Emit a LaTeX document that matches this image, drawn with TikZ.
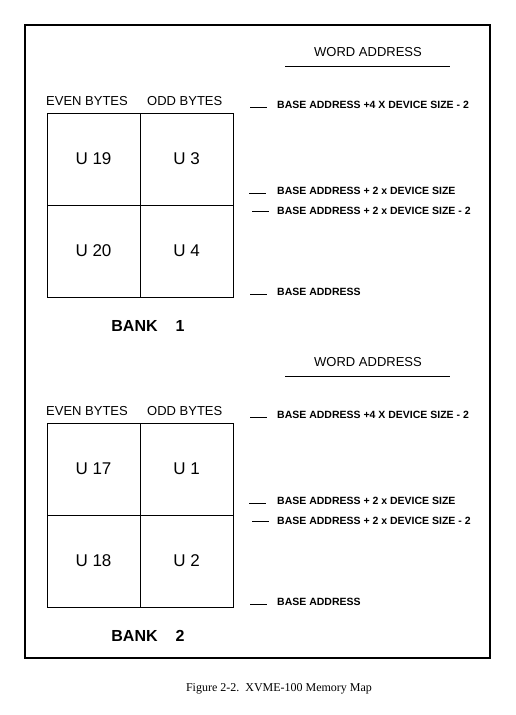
\documentclass[tikz,border=0pt]{standalone}
\usepackage{fontspec}
\setmainfont{Liberation Serif}
\setsansfont{Liberation Sans}
\usetikzlibrary{positioning}

\tikzset{
  head/.style={font=\sffamily\fontsize{13}{13}\selectfont,inner sep=0pt},
  chip/.style={draw,line width=0.9pt,minimum width=93pt,minimum height=92pt,outer sep=0pt,
    font=\sffamily\fontsize{17}{17}\selectfont},
  addr/.style={font=\sffamily\bfseries\fontsize{10.5}{10.5}\selectfont,anchor=base west,inner sep=0pt},
  bankname/.style={font=\sffamily\bfseries\fontsize{16}{16}\selectfont,inner sep=0pt},
  tick/.style={line width=0.8pt},
}

\begin{document}
\begin{tikzpicture}[x=1pt,y=-1pt]
\useasboundingbox (0,0) rectangle (515,715);
\draw[line width=1.1pt] (25,25) rectangle (490,658);
% the two banks, 310 apart
\foreach \b/\dy/\ua/\ub/\uc/\ud in {1/0/19/3/20/4,2/310/17/1/18/2} {
 \node[head] (word\b) at (368,52+\dy) {WORD ADDRESS};
 \draw[line width=0.9pt] (285,66+\dy) -- (450,66+\dy);
 \node[head,anchor=base west] (even\b) at (46,105+\dy) {EVEN BYTES};
 \node[head,anchor=base west] (odd\b) at (147,105+\dy) {ODD BYTES};
 \node[chip] (ca\b) at (93.5,159+\dy) {U \ua};
 \node[chip,right=0pt of ca\b] (cb\b) {U \ub};
 \node[chip,below=0pt of ca\b] (cc\b) {U \uc};
 \node[chip,right=0pt of cc\b] (cd\b) {U \ud};
 \node[bankname] (bank\b) at (148,326+\dy) {BANK\hspace{18pt}\b};
 % word addresses
 \node[addr] (top\b) at (277,108+\dy) {BASE ADDRESS +4 X DEVICE SIZE - 2};
 \node[addr] (hi\b) at (277,194+\dy) {BASE ADDRESS + 2 x DEVICE SIZE};
 \node[addr] (lo\b) at (277,214+\dy) {BASE ADDRESS + 2 x DEVICE SIZE - 2};
 \node[addr] (base\b) at (277,295+\dy) {BASE ADDRESS};
 \draw[tick] ([xshift=-27pt,yshift=1pt]top\b.base west) -- ([xshift=-10pt,yshift=1pt]top\b.base west);
 \draw[tick] ([xshift=-28pt,yshift=1pt]hi\b.base west) -- ([xshift=-11pt,yshift=1pt]hi\b.base west);
 \draw[tick] ([xshift=-25pt,yshift=3pt]lo\b.base west) -- ([xshift=-8pt,yshift=3pt]lo\b.base west);
 \draw[tick] ([xshift=-27pt,yshift=1pt]base\b.base west) -- ([xshift=-10pt,yshift=1pt]base\b.base west);
}
\node (caption) at (279,689) {\fontsize{12}{12}\selectfont Figure 2-2.\ \ XVME-100 Memory Map};
\end{tikzpicture}
\end{document}
